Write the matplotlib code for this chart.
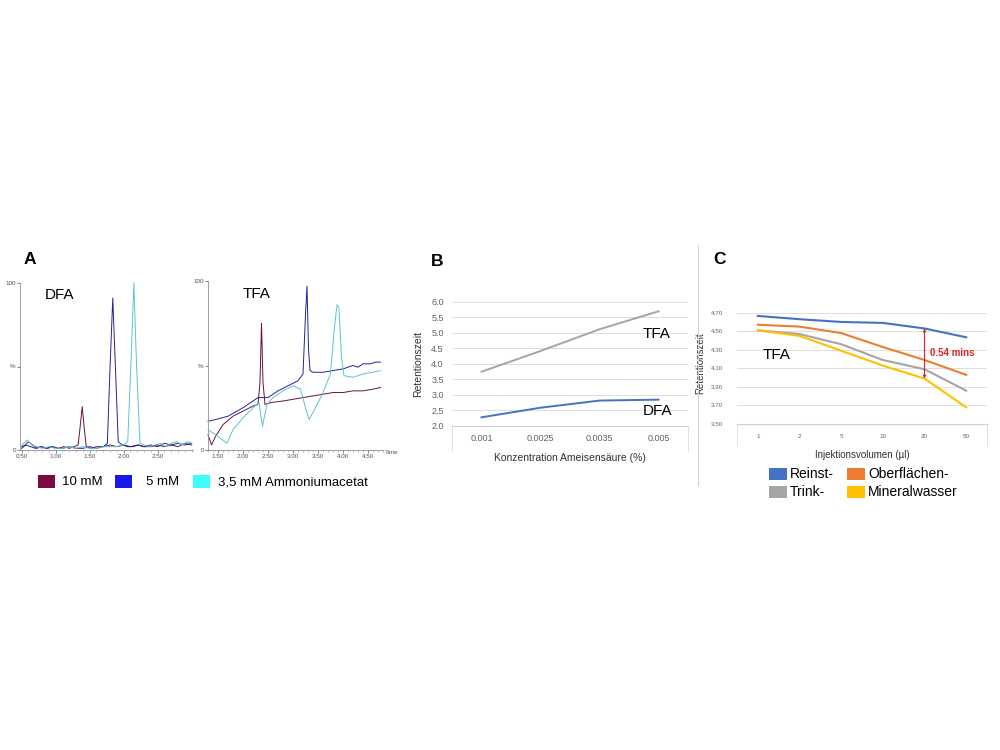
import matplotlib
matplotlib.use('Agg')
import matplotlib.pyplot as plt
from matplotlib.patches import Rectangle
from matplotlib.lines import Line2D

plt.rcParams['font.family'] = ['Liberation Sans', 'DejaVu Sans']

# ---- panel A: chromatograms (time in min, signal in %) ----
conc_labels = ['10 mM', '5 mM', '3,5 mM Ammoniumacetat']
conc_colors = ['#7b0a40', '#1a18e8', '#3ffcfc']
line_colors = ['#6a1040', '#22229a', '#5cc4cc']

dfa_t_10 = [0.50, 0.55, 0.60, 0.66, 0.72, 0.80, 0.88, 0.96, 1.04, 1.12, 1.20, 1.27, 1.33, 1.36, 1.39, 1.42,
            1.45, 1.52, 1.60, 1.70, 1.80, 1.90, 2.00, 2.10, 2.20, 2.30, 2.40, 2.50, 2.60, 2.70, 2.80, 2.90, 3.00]
dfa_y_10 = [2, 3, 5, 3, 1, 2, 1, 2, 1, 2, 1, 2, 3, 14, 26, 13,
            2, 1, 2, 2, 3, 2, 3, 2, 3, 2, 3, 2, 4, 3, 2, 4, 3]
dfa_t_5 = [0.50, 0.56, 0.63, 0.70, 0.78, 0.86, 0.94, 1.02, 1.10, 1.20, 1.30, 1.40, 1.50, 1.60, 1.70, 1.76,
           1.80, 1.84, 1.88, 1.92, 1.98, 2.06, 2.14, 2.22, 2.30, 2.40, 2.50, 2.60, 2.70, 2.80, 2.90, 3.00]
dfa_y_5 = [1, 3, 2, 1, 2, 1, 2, 1, 1, 2, 1, 1, 2, 1, 2, 4,
           50, 91, 48, 5, 3, 2, 2, 3, 2, 2, 3, 2, 3, 4, 3, 4]
dfa_t_35 = [0.50, 0.58, 0.65, 0.72, 0.80, 0.90, 1.00, 1.10, 1.20, 1.30, 1.40, 1.50, 1.60, 1.70, 1.80, 1.90,
            2.00, 2.06, 2.11, 2.15, 2.19, 2.24, 2.30, 2.38, 2.46, 2.54, 2.62, 2.70, 2.78, 2.86, 2.94, 3.00]
dfa_y_35 = [3, 6, 3, 2, 1, 2, 1, 1, 2, 1, 2, 1, 1, 2, 2, 2,
            3, 5, 55, 100, 50, 4, 3, 2, 3, 4, 2, 4, 5, 3, 5, 4]

tfa_t_10 = [1.30, 1.37, 1.45, 1.60, 1.80, 2.00, 2.20, 2.30, 2.34, 2.37, 2.40, 2.44, 2.55, 2.80, 3.00, 3.20,
            3.40, 3.60, 3.80, 4.00, 4.20, 4.40, 4.60, 4.75]
tfa_y_10 = [9, 3, 8, 15, 20, 23, 26, 27, 40, 75, 40, 27, 28, 29, 30, 31,
            32, 33, 34, 34, 35, 35, 36, 37]
tfa_t_5 = [1.30, 1.45, 1.70, 2.00, 2.30, 2.50, 2.70, 2.90, 3.10, 3.20, 3.25, 3.28, 3.31, 3.34, 3.40, 3.60,
           3.80, 4.00, 4.20, 4.30, 4.40, 4.55, 4.65, 4.75]
tfa_y_5 = [17, 18, 20, 25, 31, 31, 35, 38, 41, 45, 80, 97, 60, 47, 46, 46,
           47, 48, 50, 49, 51, 51, 52, 52]
tfa_t_35 = [1.30, 1.50, 1.68, 1.80, 2.00, 2.20, 2.32, 2.36, 2.39, 2.43, 2.48, 2.60, 2.80, 3.00, 3.15, 3.25,
            3.32, 3.45, 3.60, 3.75, 3.82, 3.88, 3.92, 3.97, 4.02, 4.20, 4.40, 4.60, 4.75]
tfa_y_35 = [12, 8, 4, 12, 19, 25, 28, 20, 14, 20, 27, 31, 35, 38, 36, 25,
            18, 25, 34, 45, 70, 86, 84, 55, 44, 43, 45, 46, 47]

# ---- panel B ----
b_categories = ['0.001', '0.0025', '0.0035', '0.005']
b_tfa = [3.75, 4.42, 5.12, 5.70]
b_dfa = [2.28, 2.59, 2.82, 2.85]
b_yticks = [2.0, 2.5, 3.0, 3.5, 4.0, 4.5, 5.0, 5.5, 6.0]

# ---- panel C ----
c_categories = ['1', '2', '5', '10', '20', '50']
c_reinst = [4.665, 4.63, 4.60, 4.59, 4.53, 4.435]
c_oberflaechen = [4.57, 4.55, 4.48, 4.33, 4.19, 4.03]
c_trink = [4.51, 4.47, 4.36, 4.19, 4.09, 3.86]
c_mineral = [4.51, 4.45, 4.29, 4.13, 3.99, 3.68]
c_yticks = [3.50, 3.70, 3.90, 4.10, 4.30, 4.50, 4.70]
c_names = ['Reinst-', 'Oberflächen-', 'Trink-', 'Mineralwasser']
c_colors = ['#4472c4', '#ed7d31', '#a5a5a5', '#ffc000']

W, H = 1000, 750
fig = plt.figure(figsize=(10, 7.5), dpi=100)


def box(l, t, r, b):
    return [l / W, 1 - b / H, (r - l) / W, (b - t) / H]


def fx(x):
    return x / W


def fy(y):
    return 1 - y / H


def chrom_axes(rect, xlim, xticks):
    ax = fig.add_axes(rect)
    ax.set_xlim(*xlim)
    ax.set_ylim(0, 100)
    for s in ['top', 'right']:
        ax.spines[s].set_visible(False)
    for s in ['left', 'bottom']:
        ax.spines[s].set_color('#909090')
        ax.spines[s].set_linewidth(0.6)
    ax.set_xticks(xticks)
    ax.set_xticklabels(['%.2f' % v for v in xticks])
    ax.set_yticks([0, 50, 100])
    ax.set_yticklabels(['0', '%', '100'])
    ax.tick_params(labelsize=4.5, length=2, width=0.5, pad=1, colors='#505050')
    ax.minorticks_on()
    ax.tick_params(which='minor', length=1.2, width=0.4, colors='#909090')
    ax.yaxis.set_minor_locator(plt.NullLocator())
    return ax


# panel A - DFA
ax1 = chrom_axes(box(20, 283, 193, 450), (0.475, 3.02), [0.5, 1.0, 1.5, 2.0, 2.5])
for t, y, c in [(dfa_t_10, dfa_y_10, line_colors[0]), (dfa_t_5, dfa_y_5, line_colors[1]),
                (dfa_t_35, dfa_y_35, line_colors[2])]:
    ax1.plot(t, y, color=c, lw=0.7, clip_on=False)

# panel A - TFA
ax2 = chrom_axes(box(208, 281, 383, 450), (1.3, 4.8), [1.5, 2.0, 2.5, 3.0, 3.5, 4.0, 4.5])
for t, y, c in [(tfa_t_10, tfa_y_10, line_colors[0]), (tfa_t_5, tfa_y_5, line_colors[1]),
                (tfa_t_35, tfa_y_35, line_colors[2])]:
    ax2.plot(t, y, color=c, lw=0.7, clip_on=False)
fig.text(fx(385), fy(452), 'Time', fontsize=4.5, color='#505050', va='center')

fig.text(fx(60), fy(295), 'DFA', fontsize=11, ha='center', va='center')
fig.text(fx(257), fy(294), 'TFA', fontsize=11, ha='center', va='center')

# legend A (placed by hand)
for lab, col, xh, xt in zip(conc_labels, conc_colors, [38, 115, 193], [62, 146, 218]):
    fig.add_artist(Rectangle((fx(xh), fy(488)), 17 / W, 13 / H, transform=fig.transFigure,
                             facecolor=col, edgecolor='none'))
    fig.text(fx(xt), fy(482), lab, fontsize=9.5, va='center')

# panel B
ax3 = fig.add_axes(box(452, 302, 688, 426))
xb = list(range(len(b_categories)))
ax3.plot(xb, b_tfa, color='#a5a5a5', lw=1.4)
ax3.plot(xb, b_dfa, color='#4472c4', lw=1.4)
ax3.set_xlim(-0.5, len(b_categories) - 0.5)
ax3.set_ylim(2.0, 6.0)
ax3.set_yticks(b_yticks)
ax3.set_yticklabels(['%.1f' % v for v in b_yticks])
ax3.set_xticks(xb)
ax3.set_xticklabels(b_categories)
ax3.grid(axis='y', color='#d9d9d9', lw=0.6)
ax3.set_axisbelow(True)
for s in ['top', 'right', 'left']:
    ax3.spines[s].set_visible(False)
ax3.spines['bottom'].set_color('#d0d0d0')
ax3.tick_params(axis='both', length=0, labelsize=6.5, colors='#606060', pad=6)
ax3.set_xticks([-0.5, len(b_categories) - 0.5], minor=True)
ax3.tick_params(axis='x', which='minor', length=18, width=0.6, color='#d9d9d9')
ax3.set_xlabel('Konzentration Ameisensäure (%)', fontsize=7.5, color='#303030', labelpad=-2)
ax3.set_ylabel('Retentionszeit', fontsize=7.5, color='#303030', labelpad=6)
fig.text(fx(657), fy(334), 'TFA', fontsize=11, ha='center', va='center')
fig.text(fx(657), fy(411), 'DFA', fontsize=11, ha='center', va='center')

# separator between B and C
fig.add_artist(Line2D([fx(697.5), fx(697.5)], [fy(245), fy(485)], color='#d6d6d6', lw=0.8))

# panel C
ax4 = fig.add_axes(box(737, 312.7, 987, 424))
xc = list(range(len(c_categories)))
for vals, col in zip([c_reinst, c_oberflaechen, c_trink, c_mineral], c_colors):
    ax4.plot(xc, vals, color=col, lw=1.5)
ax4.set_xlim(-0.5, len(c_categories) - 0.5)
ax4.set_ylim(3.50, 4.70)
ax4.set_yticks(c_yticks)
ax4.set_yticklabels(['%.2f' % v for v in c_yticks])
ax4.set_xticks(xc)
ax4.set_xticklabels(c_categories)
ax4.grid(axis='y', color='#d9d9d9', lw=0.6)
ax4.set_axisbelow(True)
for s in ['top', 'right', 'left']:
    ax4.spines[s].set_visible(False)
ax4.spines['bottom'].set_color('#d0d0d0')
ax4.tick_params(axis='both', length=0, labelsize=4.5, colors='#606060', pad=7)
ax4.tick_params(axis='y', pad=10)
ax4.set_xticks([-0.5, len(c_categories) - 0.5], minor=True)
ax4.tick_params(axis='x', which='minor', length=16, width=0.6, color='#d9d9d9')
ax4.set_xlabel('Injektionsvolumen (µl)', fontsize=7, color='#303030', labelpad=-1)
ax4.set_ylabel('Retentionszeit', fontsize=7, color='#303030')
ax4.yaxis.set_label_coords(-0.125, 0.55)
i20 = c_categories.index('20')
ax4.annotate('', xy=(i20, c_mineral[i20]), xytext=(i20, c_reinst[i20]),
             arrowprops=dict(arrowstyle='<|-|>', color='#e0202a', lw=0.8, mutation_scale=4,
                             shrinkA=0, shrinkB=0))
ax4.text(i20 + 0.13, 4.27, '%.2f mins' % (c_reinst[i20] - c_mineral[i20]), fontsize=7,
         fontweight='bold', color='#e0202a', va='center')
fig.text(fx(777), fy(355), 'TFA', fontsize=11, ha='center', va='center')

# legend C (placed by hand)
for lab, col, xh, yy in zip(c_names, c_colors, [769, 847, 769, 847], [474, 474, 492, 492]):
    fig.add_artist(Rectangle((fx(xh), fy(yy + 6)), 18 / W, 12 / H, transform=fig.transFigure,
                             facecolor=col, edgecolor='none'))
    fig.text(fx(xh + 21), fy(yy), lab, fontsize=10, va='center')

# panel letters
fig.text(fx(30), fy(260), 'A', fontsize=12.5, fontweight='bold', ha='center', va='center')
fig.text(fx(437), fy(261), 'B', fontsize=12.5, fontweight='bold', ha='center', va='center')
fig.text(fx(720), fy(260), 'C', fontsize=12.5, fontweight='bold', ha='center', va='center')

fig.savefig('out.png', dpi=100)
